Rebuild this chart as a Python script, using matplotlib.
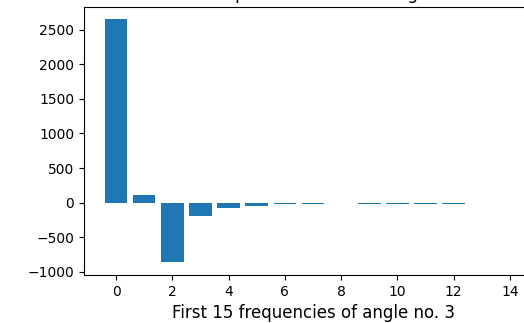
import numpy as np
import matplotlib
matplotlib.use('Agg')
import matplotlib.pyplot as plt

# Valores das 15 primeiras frequências
freqs = np.arange(15)
valores = [2660, 110, -860, -190, -75, -55, -20, -20, 0, -20, -20, -20, -20, 0, 0]

fig = plt.figure(figsize=(5.24, 3.23), dpi=100)
# eixo maior que a figura: a imagem original está recortada à direita e no topo
ax = fig.add_axes([84/524, 48/323, 458/524, 268/323])

ax.bar(freqs, valores)
ax.set_xlim(-1.14, 15.14)
ax.set_ylim(-1048, 2830)
ax.set_title('Real part of the DFT of angle', fontsize=12)
ax.set_xlabel('First 15 frequencies of angle no. 3', fontsize=12)

fig.savefig('out.png', dpi=100)
